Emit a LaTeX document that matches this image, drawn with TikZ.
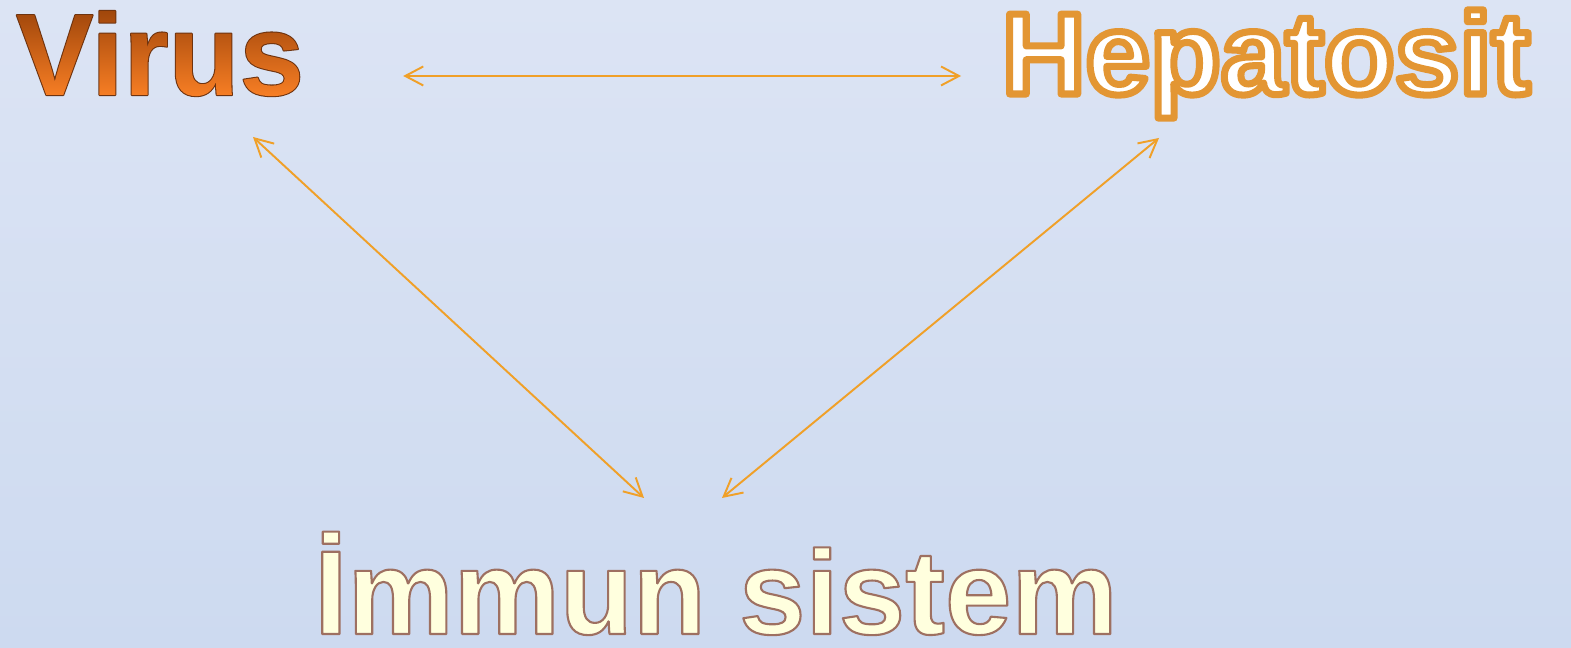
\documentclass[tikz,border=0pt]{standalone}
\usepackage{fontspec}
\setmainfont{Liberation Sans}
\usetikzlibrary{arrows.meta}
\definecolor{bgtop}{RGB}{220,228,244}
\definecolor{bgmid}{RGB}{186,203,235}
\definecolor{bgbot}{RGB}{205,218,240}
\definecolor{linkc}{RGB}{240,160,40}
\definecolor{hepfill}{RGB}{255,255,255}
\definecolor{immfill}{RGB}{255,255,222}
\newcommand{\virusfont}{\fontsize{33}{40}\selectfont\bfseries}
\newcommand{\hepfont}{\fontsize{33}{40}\selectfont\bfseries}
\newcommand{\immfont}{\fontsize{34}{40}\selectfont\bfseries}
% gradient fill (page coordinates, bp) and outlined glyphs
\newcommand{\wordpatterns}{%
  \special{pdf:obj @viruspat << /Type /Pattern /PatternType 2 /Shading
    << /ShadingType 2 /ColorSpace /DeviceRGB /Coords [0 157 0 181.5]
       /Function << /FunctionType 2 /Domain [0 1] /C0 [0.96 0.49 0.14]
       /C1 [0.62 0.27 0.04] /N 1 >> /Extend [true true] >> >>}%
  \special{pdf:put @resources << /Pattern << /VirusPat @viruspat >> >>}}
\newcommand{\outlined}[2]{%
  \special{pdf:bcontent}\special{pdf:literal #1 1 j 2 Tr}#2\special{pdf:econtent}}
\tikzset{
  >={Straight Barb[length=1.8mm,width=1.9mm]},
  link/.style={<->,draw=linkc,line width=0.55pt},
  word/.style={inner sep=0pt,anchor=base},
}

\begin{document}
\begin{tikzpicture}
  \shade[top color=bgtop,middle color=bgmid,bottom color=bgbot]
    (0,0) rectangle (15.71,6.48);
  % words
  \node[word,font=\virusfont] (virus) at (1.60,5.53)
    {\wordpatterns\outlined{/Pattern cs /VirusPat scn 0.43 0.2 0.06 RG 0.6 w}{Virus}};
  \node[word,font=\hepfont,text=hepfill] (hepatosit) at (12.66,5.54)
    {\outlined{0.89 0.59 0.2 RG 2.0 w}{Hepatosit}};
  \node[word,font=\immfont,text=immfill] (immun) at (7.16,0.14)
    {\outlined{0.62 0.44 0.38 RG 0.6 w}{İmmun sistem}};
  % links
  \draw[link] ([shift={(0.985,0.19)}]virus.base east) -- ([shift={(-0.40,0.18)}]hepatosit.base west);
  \draw[link] ([shift={(0.93,-0.42)}]virus.base) -- ([shift={(-0.72,1.36)}]immun.base);
  \draw[link] ([shift={(-1.07,-0.44)}]hepatosit.base) -- ([shift={(0.06,1.36)}]immun.base);
\end{tikzpicture}
\end{document}
